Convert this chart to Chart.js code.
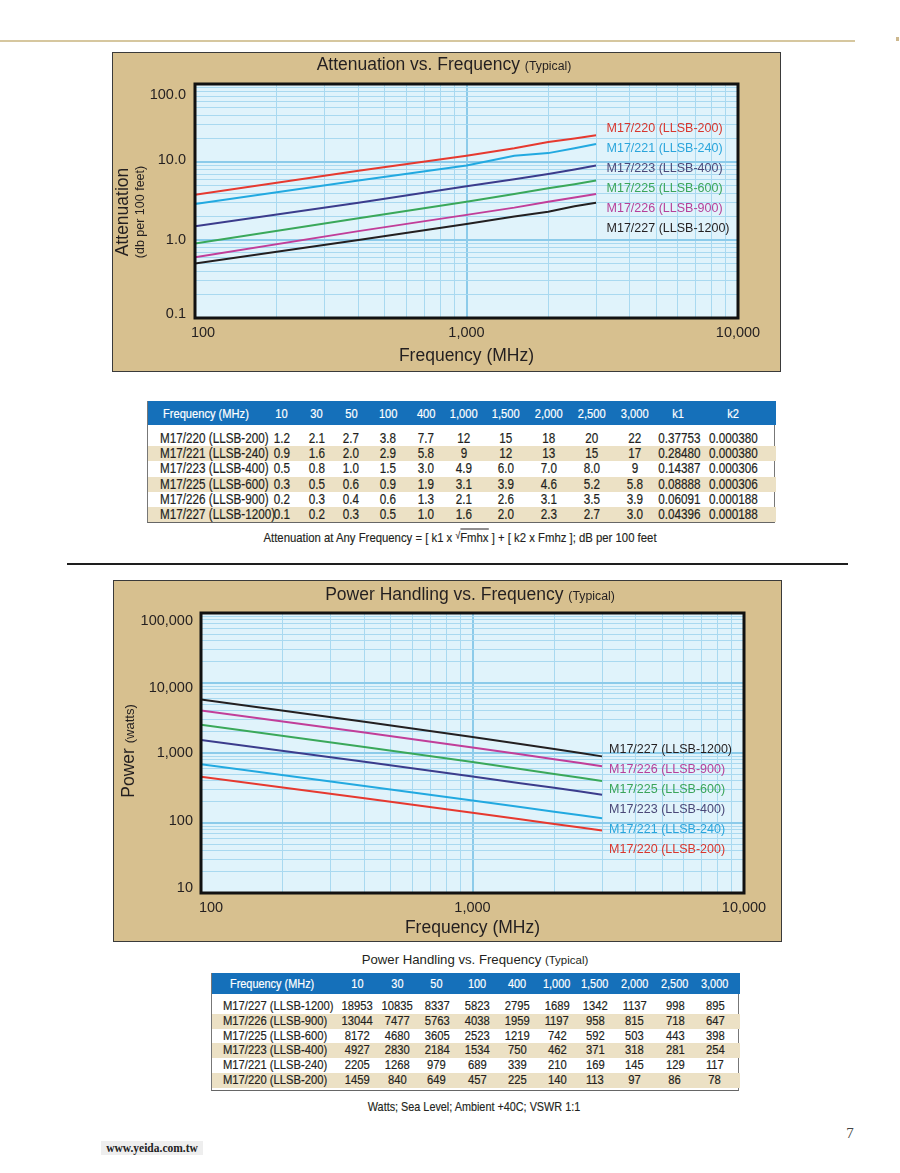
<!DOCTYPE html>
<html><head><meta charset="utf-8">
<script src="https://cdn.jsdelivr.net/npm/chart.js@4.4.1/dist/chart.umd.min.js"></script>
<style>
html,body{margin:0;padding:0;background:#fff;}
body{width:900px;height:1173px;position:relative;overflow:hidden;font-family:"Liberation Sans",Arial,sans-serif;color:#231f20;}
.abs{position:absolute;}
.panel{position:absolute;background:#d7c08f;border:1px solid #3a3a3a;box-sizing:border-box;}
.panel canvas{position:absolute;left:0;top:0;}
.tblwrap{position:absolute;box-sizing:border-box;border-left:1px solid #777;border-right:1px solid #777;border-bottom:1px solid #666;}
table.dt{border-collapse:collapse;table-layout:fixed;width:100%;color:#231f20;-webkit-text-stroke:0.2px currentColor;}
table.dt td{padding:0;white-space:nowrap;text-align:center;overflow:visible;}
table.dt tr.hd td{background:#1570ba;color:#fff;}
table.dt tr.tan td{background:#ece1c5;}
table.dt td.lab{text-align:left;}
.sq{display:inline-block;transform:scaleX(var(--sx,0.82));transform-origin:50% 50%;}
td.lab .sq{transform-origin:0 50%;}
.cap{position:absolute;white-space:nowrap;transform:translate(-50%,-50%);}
.capn{position:absolute;white-space:nowrap;transform:translate(-50%,-50%) scaleX(0.86);-webkit-text-stroke:0.15px currentColor;}
</style></head>
<body>
<div class="abs" style="left:0;top:40px;width:855px;height:2px;background:#d6c79f"></div>
<div class="abs" style="left:896px;top:37px;width:3px;height:4px;background:#cdb88e"></div>

<div class="panel" style="left:112px;top:52px;width:669px;height:320px"><canvas id="att" width="667" height="318"></canvas></div>

<div class="tblwrap" id="t1" style="left:147px;top:401px;width:628px;--sx:0.83"></div>
<div class="capn" id="formula" style="left:460px;top:537px;font-size:13.2px">Attenuation at Any Frequency = [ k1 x <span style="font-size:10px;position:relative;top:-3px">&#8730;</span><span style="border-top:1px solid #231f20">Fmhx</span> ] + [ k2 x Fmhz ]; dB per 100 feet</div>

<div class="abs" style="left:67px;top:563px;width:781px;height:2px;background:#1e1e1e"></div>

<div class="panel" style="left:113px;top:580px;width:669px;height:362px"><canvas id="pw" width="667" height="360"></canvas></div>

<div class="cap" style="left:475px;top:959px;font-size:13.2px">Power Handling vs. Frequency <span style="font-size:11.5px">(Typical)</span></div>
<div class="tblwrap" id="t2" style="left:211px;top:973px;width:528px;--sx:0.82"></div>
<div class="capn" style="left:474px;top:1107px;font-size:12.6px">Watts; Sea Level; Ambient +40C; VSWR 1:1</div>

<div class="cap" style="left:850px;top:1133px;font-size:15px;font-family:'Liberation Serif',serif;color:#444">7</div>
<div class="abs" style="left:101px;top:1141px;width:102px;height:14px;background:#eeeeee"></div>
<div class="cap" style="left:152px;top:1148px;font-size:11.5px;font-weight:bold;font-family:'Liberation Serif',serif;color:#222">www.yeida.com.tw</div>

<script>
// ---------------- DATA ----------------
const freqs = [10, 30, 50, 100, 400, 1000, 1500, 2000, 2500, 3000];
const freqLabels = ['10', '30', '50', '100', '400', '1,000', '1,500', '2,000', '2,500', '3,000'];

// Attenuation (dB per 100 feet)
const attNames = ['M17/220 (LLSB-200)', 'M17/221 (LLSB-240)', 'M17/223 (LLSB-400)', 'M17/225 (LLSB-600)', 'M17/226 (LLSB-900)', 'M17/227 (LLSB-1200)'];
const att220 = ['1.2', '2.1', '2.7', '3.8', '7.7', '12', '15', '18', '20', '22'];
const att221 = ['0.9', '1.6', '2.0', '2.9', '5.8', '9', '12', '13', '15', '17'];
const att223 = ['0.5', '0.8', '1.0', '1.5', '3.0', '4.9', '6.0', '7.0', '8.0', '9'];
const att225 = ['0.3', '0.5', '0.6', '0.9', '1.9', '3.1', '3.9', '4.6', '5.2', '5.8'];
const att226 = ['0.2', '0.3', '0.4', '0.6', '1.3', '2.1', '2.6', '3.1', '3.5', '3.9'];
const att227 = ['0.1', '0.2', '0.3', '0.5', '1.0', '1.6', '2.0', '2.3', '2.7', '3.0'];
const k1 = ['0.37753', '0.28480', '0.14387', '0.08888', '0.06091', '0.04396'];
const k2 = ['0.000380', '0.000380', '0.000306', '0.000306', '0.000188', '0.000188'];

// Power handling (watts)
const pwNames = ['M17/227 (LLSB-1200)', 'M17/226 (LLSB-900)', 'M17/225 (LLSB-600)', 'M17/223 (LLSB-400)', 'M17/221 (LLSB-240)', 'M17/220 (LLSB-200)'];
const pw227 = [18953, 10835, 8337, 5823, 2795, 1689, 1342, 1137, 998, 895];
const pw226 = [13044, 7477, 5763, 4038, 1959, 1197, 958, 815, 718, 647];
const pw225 = [8172, 4680, 3605, 2523, 1219, 742, 592, 503, 443, 398];
const pw223 = [4927, 2830, 2184, 1534, 750, 462, 371, 318, 281, 254];
const pw221 = [2205, 1268, 979, 689, 339, 210, 169, 145, 129, 117];
const pw220 = [1459, 840, 649, 457, 225, 140, 113, 97, 86, 78];

// Tick labels
const xTicks = [100, 1000, 10000];
const xTickLabels = ['100', '1,000', '10,000'];
const attYTicks = [0.1, 1, 10, 100];
const attYTickLabels = ['0.1', '1.0', '10.0', '100.0'];
const pwYTicks = [10, 100, 1000, 10000, 100000];
const pwYTickLabels = ['10', '100', '1,000', '10,000', '100,000'];

// ---------------- STYLE ----------------
const col = {
  c220: '#e6392f', c221: '#22a9e0', c223: '#3b3c8c', c225: '#3aa85a', c226: '#c13e99', c227: '#231f20'
};
const labCol = {
  c220: '#d8362d', c221: '#2aa6dc', c223: '#4a4878', c225: '#3aa55a', c226: '#b6409a', c227: '#231f20'
};
const SANS = '"Liberation Sans", Arial, sans-serif';

// ---------------- TABLES ----------------
function cell(txt) { return '<span class="sq">' + txt + '</span>'; }
function buildTable(el, headCells, rows, widths, opts) {
  let h = '<table class="dt"><colgroup>' + widths.map(w => '<col style="width:' + w + 'px">').join('') + '</colgroup>';
  h += '<tr class="hd" style="height:' + opts.headH + 'px">' + headCells.map((c, i) =>
    '<td' + (i === 0 ? ' class="lab" style="padding-left:' + opts.headPad + 'px;' : ' style="') + 'font-size:' + opts.headFs + 'px' +
    (i === headCells.length - 1 && opts.lastPad ? ';padding-right:' + opts.lastPad + 'px' : '') + '">' + cell(c) + '</td>').join('') + '</tr>';
  h += '<tr style="height:' + opts.gap + 'px"><td colspan="' + widths.length + '"></td></tr>';
  rows.forEach((r, ri) => {
    h += '<tr' + (ri % 2 === 1 ? ' class="tan"' : '') + ' style="height:' + opts.rowH + 'px">' + r.map((c, i) =>
      '<td' + (i === 0 ? ' class="lab" style="padding-left:' + opts.rowPad + 'px;' : ' style="') + 'font-size:' + opts.rowFs + 'px;line-height:' + opts.rowH + 'px' +
      (i === r.length - 1 && opts.lastPad ? ';padding-right:' + opts.lastPad + 'px' : '') + '">' + cell(c) + '</td>').join('') + '</tr>';
  });
  if (opts.endGap) h += '<tr style="height:' + opts.endGap + 'px"><td colspan="' + widths.length + '"></td></tr>';
  h += '</table>';
  el.innerHTML = h;
}
const attSeries = [att220, att221, att223, att225, att226, att227];
buildTable(document.getElementById('t1'),
  ['Frequency (MHz)'].concat(freqLabels, ['k1', 'k2']),
  attNames.map((n, i) => [n].concat(attSeries[i], [k1[i], k2[i]])),
  [116, 35.5, 34, 35.5, 38, 38.5, 36, 49, 37, 49, 37, 48.5, 74],
  { headH: 24, headFs: 13.4, headPad: 15, gap: 6, rowH: 15.2, rowFs: 14.1, rowPad: 12, lastPad: 12, endGap: 0 });

const pwSeries = [pw227, pw226, pw225, pw223, pw221, pw220];
buildTable(document.getElementById('t2'),
  ['Frequency (MHz)'].concat(freqLabels),
  pwNames.map((n, i) => [n].concat(pwSeries[i].map(String))),
  [125.5, 40, 39, 40.5, 40, 41, 38, 38, 41, 40, 45],
  { headH: 21, headFs: 13.3, headPad: 18, gap: 5, rowH: 14.8, rowFs: 13.7, rowPad: 11, lastPad: 5, endGap: 2 });

// ---------------- CHART HELPERS ----------------
function buildLogTicks(min, max) {
  const out = [];
  for (let e = Math.round(Math.log10(min)); e <= Math.round(Math.log10(max)); e++) {
    const d = Math.pow(10, e);
    for (let m = 1; m <= 9; m++) {
      const v = m * d;
      if (v >= min * 0.999 && v <= max * 1.001) out.push({ value: v });
    }
  }
  return out;
}
function isMajor(v) { const l = Math.log10(v); return Math.abs(l - Math.round(l)) < 1e-6; }
function labelFor(v, vals, labels) {
  for (let i = 0; i < vals.length; i++) if (Math.abs(v - vals[i]) / vals[i] < 1e-6) return labels[i];
  return '';
}
const gridColor = ctx => (ctx.tick && isMajor(ctx.tick.value)) ? '#8ccbea' : '#a9d9f0';
const gridWidth = ctx => (ctx.tick && isMajor(ctx.tick.value)) ? 2 : 1;

const plotBg = {
  id: 'plotBg',
  beforeDraw(chart) {
    const { ctx, chartArea: a } = chart;
    ctx.save(); ctx.fillStyle = '#e0f3fb'; ctx.fillRect(a.left, a.top, a.right - a.left, a.bottom - a.top); ctx.restore();
  }
};
// small nudges of individual tick-label texts, as printed in the reference
const labelNudge = {
  id: 'labelNudge',
  beforeDraw(chart, args, o) {
    ['x', 'y'].forEach(k => {
      const s = chart.scales[k];
      const items = s.getLabelItems();
      if (items._nudged) return;
      items.forEach(it => {
        const d = (o[k] || {})[it.label];
        if (d && it.options && it.options.translation) {
          if (k === 'x') it.options.translation[0] += d; else it.options.translation[1] += d;
        }
      });
      items._nudged = true;
    });
  }
};
const plotBorder = {
  id: 'plotBorder',
  afterDraw(chart) {
    const { ctx, chartArea: a } = chart;
    ctx.save(); ctx.strokeStyle = '#111'; ctx.lineWidth = 3;
    ctx.strokeRect(a.left, a.top, a.right - a.left, a.bottom - a.top); ctx.restore();
  }
};
const decor = {
  id: 'decor',
  afterDraw(chart, args, o) {
    const { ctx, chartArea: a, scales } = chart;
    ctx.save();
    ctx.textBaseline = 'alphabetic';
    ctx.font = o.titleSize + 'px ' + SANS; const w1 = ctx.measureText(o.title + ' ').width;
    ctx.font = o.subSize + 'px ' + SANS; const w2 = ctx.measureText('(Typical)').width;
    let x0 = o.titleX - (w1 + w2) / 2;
    ctx.fillStyle = '#231f20';
    ctx.font = o.titleSize + 'px ' + SANS; ctx.fillText(o.title + ' ', x0, o.titleBase);
    ctx.font = o.subSize + 'px ' + SANS; ctx.fillText('(Typical)', x0 + w1, o.titleBase);
    ctx.translate(o.yTitleX, o.yTitleY); ctx.rotate(-Math.PI / 2);
    if (o.yStacked) {
      ctx.textAlign = 'center'; ctx.textBaseline = 'middle';
      ctx.font = o.yMainSize + 'px ' + SANS; ctx.fillText(o.yMain, 0, 0);
      ctx.font = o.ySubSize + 'px ' + SANS; ctx.fillText(o.ySub, 0, o.ySubDy);
    } else {
      ctx.textBaseline = 'alphabetic';
      ctx.font = o.yMainSize + 'px ' + SANS; const m1 = ctx.measureText(o.yMain + ' ').width;
      ctx.font = o.ySubSize + 'px ' + SANS; const m2 = ctx.measureText(o.ySub).width;
      const sx = -(m1 + m2) / 2;
      ctx.font = o.yMainSize + 'px ' + SANS; ctx.fillText(o.yMain + ' ', sx, 6);
      ctx.font = o.ySubSize + 'px ' + SANS; ctx.fillText(o.ySub, sx + m1, 6);
    }
    ctx.restore();
    ctx.save();
    ctx.font = o.labSize + 'px ' + SANS; ctx.textBaseline = 'middle'; ctx.textAlign = 'left';
    const lx = scales.x.getPixelForValue(o.anchor) + o.dx;
    o.labels.forEach((l, i) => { ctx.fillStyle = l.color; ctx.fillText(l.text, lx, a.top + o.labTop + i * o.labStep); });
    ctx.restore();
  }
};

function makeChart(id, names, series, keys, yMin, yMax, yTickVals, yTickLabs, lay, decorOpts, nudge) {
  const datasets = names.map((n, i) => ({
    label: n,
    data: freqs.map((f, j) => ({ x: f, y: Number(series[i][j]) })),
    borderColor: col[keys[i]], borderWidth: 2, pointRadius: 0, tension: 0, fill: false
  }));
  decorOpts.labels = names.map((n, i) => ({ text: n, color: labCol[keys[i]] }));
  return new Chart(document.getElementById(id), {
    type: 'line',
    data: { datasets },
    plugins: [plotBg, labelNudge, plotBorder, decor],
    options: {
      responsive: false, animation: false, devicePixelRatio: 1,
      layout: { padding: { left: 0, right: lay.right, top: lay.top, bottom: 0 } },
      plugins: { legend: { display: false }, tooltip: { enabled: false }, title: { display: false }, decor: decorOpts, labelNudge: nudge },
      scales: {
        x: {
          type: 'logarithmic', min: 100, max: 10000,
          afterBuildTicks: s => { s.ticks = buildLogTicks(100, 10000); },
          afterFit: s => { s.height = lay.xH; },
          grid: { color: gridColor, lineWidth: gridWidth, drawTicks: false },
          border: { display: false },
          ticks: { autoSkip: false, maxRotation: 0, minRotation: 0, padding: 6, color: '#231f20',
            font: { size: 14.5, family: SANS }, callback: v => labelFor(v, xTicks, xTickLabels) },
          title: { display: true, text: 'Frequency (MHz)', color: '#231f20', font: { size: 17.5, family: SANS },
            padding: { top: 0, bottom: lay.xTitlePad } }
        },
        y: {
          type: 'logarithmic', min: yMin, max: yMax,
          afterBuildTicks: s => { s.ticks = buildLogTicks(yMin, yMax); },
          afterFit: s => { s.width = lay.yW; },
          grid: { color: gridColor, lineWidth: gridWidth, drawTicks: false },
          border: { display: false },
          ticks: { autoSkip: false, padding: lay.yPad, color: '#231f20',
            font: { size: 14.5, family: SANS }, callback: v => labelFor(v, yTickVals, yTickLabs) }
        }
      }
    }
  });
}

makeChart('att', attNames, attSeries, ['c220', 'c221', 'c223', 'c225', 'c226', 'c227'],
  0.1, 100, attYTicks, attYTickLabels,
  { right: 42, top: 31, xH: 53, yW: 82, yPad: 9, xTitlePad: 4 },
  { title: 'Attenuation vs. Frequency', titleSize: 17.5, subSize: 12.3, titleX: 331, titleBase: 16.5,
    yStacked: true, yMain: 'Attenuation', ySub: '(db per 100 feet)', yMainSize: 17.5, ySubSize: 12.5,
    yTitleX: 10, yTitleY: 159, ySubDy: 18,
    labSize: 12.5, anchor: 3000, dx: 10.5, labTop: 45, labStep: 20 },
  { x: { '100': 8 }, y: { '100.0': 11, '10.0': -2, '0.1': -4 } });

makeChart('pw', pwNames, pwSeries, ['c227', 'c226', 'c225', 'c223', 'c221', 'c220'],
  10, 100000, pwYTicks, pwYTickLabels,
  { right: 37, top: 32, xH: 48, yW: 87, yPad: 8, xTitlePad: 2 },
  { title: 'Power Handling vs. Frequency', titleSize: 17.5, subSize: 12.3, titleX: 356, titleBase: 18.5,
    yStacked: false, yMain: 'Power', ySub: '(watts)', yMainSize: 17.5, ySubSize: 13,
    yTitleX: 14, yTitleY: 170,
    labSize: 12.5, anchor: 3000, dx: 7, labTop: 136.7, labStep: 20 },
  { x: { '100': 10 }, y: { '100,000': 8, '10,000': 5, '100': -2, '10': -5 } });
</script>
</body></html>
